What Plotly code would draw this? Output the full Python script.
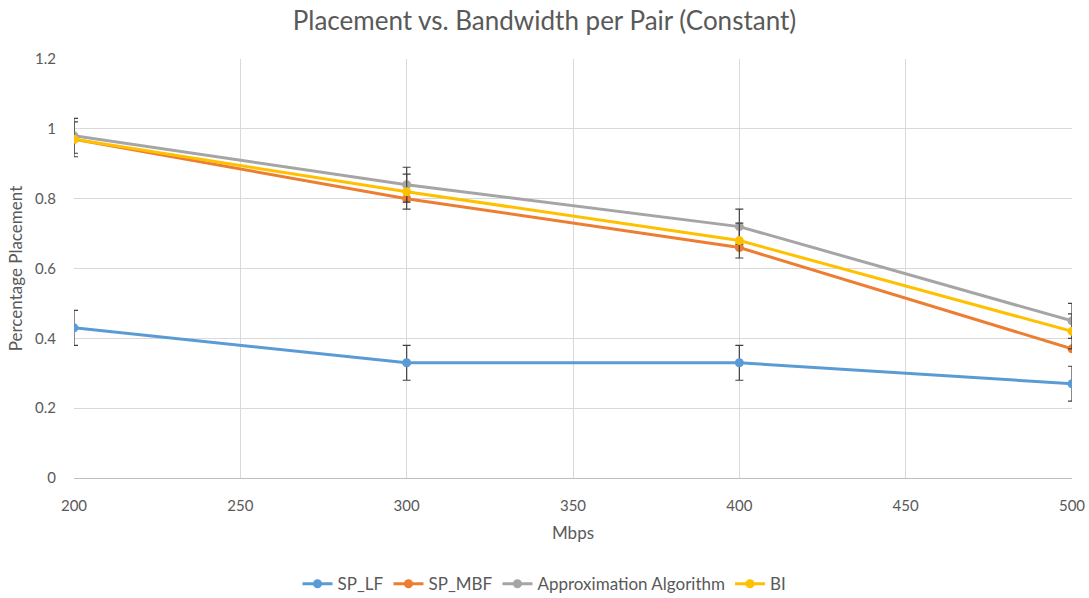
import plotly.graph_objects as go

x = [200, 300, 400, 500]
sp_lf = [0.43, 0.33, 0.33, 0.27]
sp_mbf = [0.97, 0.80, 0.66, 0.37]
approx = [0.98, 0.84, 0.72, 0.45]
bi = [0.97, 0.82, 0.68, 0.42]
err_lf = [0.05, 0.05, 0.05, 0.05]
err_approx = [0.05, 0.05, 0.05, 0.05]
err_bi = [0.05, 0.05, 0.05, 0.05]

series = [
    ("SP_LF", sp_lf, "#5B9BD5", err_lf),
    ("SP_MBF", sp_mbf, "#ED7D31", None),
    ("Approximation Algorithm", approx, "#A5A5A5", err_approx),
    ("BI", bi, "#FFC000", err_bi),
]

fig = go.Figure()
for name, y, color, err in series:
    kw = {}
    if err is not None:
        kw["error_y"] = dict(type="data", array=err, visible=True, color="#404040",
                             thickness=1.2, width=4)
    fig.add_trace(go.Scatter(x=x, y=y, name=name, mode="lines+markers",
                             line=dict(color=color, width=3),
                             marker=dict(color=color, size=9), **kw))

font = "Lato, Carlito, Calibri, sans-serif"
fig.update_layout(
    width=1089, height=598,
    margin=dict(l=74, r=17, t=59, b=120, autoexpand=False),
    paper_bgcolor="white", plot_bgcolor="white",
    font=dict(family=font, color="#595959", size=15),
    title=dict(text="Placement vs. Bandwidth per Pair (Constant)", x=0.5, xanchor="center",
               xref="container", y=0.965, yanchor="middle", font=dict(size=26, color="#595959")),
    legend=dict(orientation="h", x=0.5, xanchor="center", xref="container", y=0.023,
                yanchor="middle", yref="container", font=dict(size=17, color="#595959"),
                traceorder="normal"),
    showlegend=True,
)
fig.update_xaxes(range=[200, 500], dtick=50, tick0=200, showgrid=True, gridcolor="#D9D9D9",
                 gridwidth=1, showline=True, linecolor="#BFBFBF", linewidth=1, zeroline=False,
                 ticks="outside", ticklen=14, tickcolor="rgba(0,0,0,0)", automargin=False,
                 tickfont=dict(size=15, color="#595959"),
                 title=dict(text="Mbps", font=dict(size=17, color="#595959"), standoff=14))
fig.update_yaxes(range=[0, 1.2], dtick=0.2, tick0=0, showgrid=True, gridcolor="#D9D9D9",
                 gridwidth=1, showline=False, zeroline=False,
                 ticks="outside", ticklen=14, tickcolor="rgba(0,0,0,0)", automargin=False,
                 tickfont=dict(size=15, color="#595959"),
                 title=dict(text="Percentage Placement", font=dict(size=17, color="#595959"), standoff=8))

fig.write_html("out.html")
